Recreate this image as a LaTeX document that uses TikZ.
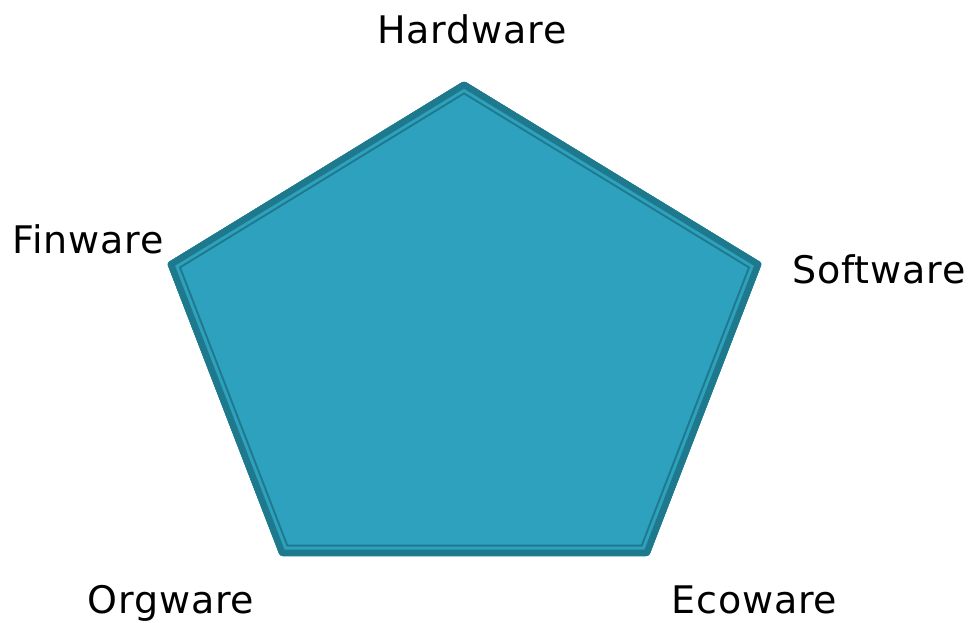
\documentclass[tikz,border=0pt]{standalone}
\usepackage{fontspec}
\setmainfont{DejaVu Sans}[LetterSpace=2]
\definecolor{penfill}{RGB}{46,161,190}
\definecolor{pendark}{RGB}{31,121,140}
\tikzset{lbl/.style={anchor=base,inner sep=0pt,font=\fontsize{28.5pt}{34pt}\selectfont,text=black}}
\begin{document}
\begin{tikzpicture}[x=0.75pt,y=-0.75pt]
\useasboundingbox (0,0) rectangle (973,622);
\coordinate (T) at (464,81);
\coordinate (R) at (762,263);
\coordinate (BR) at (649,556);
\coordinate (BL) at (280,556);
\coordinate (L) at (167,263);
\fill[penfill,rounded corners=2pt] (T) -- (R) -- (BR) -- (BL) -- (L) -- cycle;
\begin{scope}
\clip[rounded corners=2pt] (T) -- (R) -- (BR) -- (BL) -- (L) -- cycle;
\draw[pendark,line width=17.25pt,line join=miter] (T) -- (R) -- (BR) -- (BL) -- (L) -- cycle;
\draw[penfill,line width=14.25pt,line join=miter] (T) -- (R) -- (BR) -- (BL) -- (L) -- cycle;
\draw[pendark,line width=9.75pt,line join=miter] (T) -- (R) -- (BR) -- (BL) -- (L) -- cycle;
\end{scope}
\node[lbl] (hw) at (472,43) {Hardware};
\node[lbl] (fw) at (88,253) {Finware};
\node[lbl] (sw) at (879,283) {Software};
\node[lbl] (ow) at (171,613) {Orgware};
\node[lbl] (ew) at (754.5,613) {Ecoware};
\end{tikzpicture}
\end{document}
